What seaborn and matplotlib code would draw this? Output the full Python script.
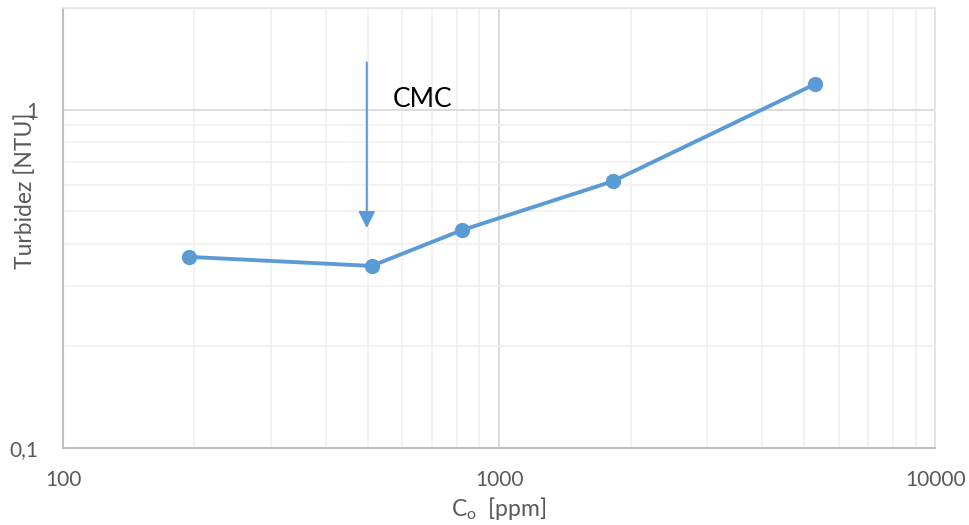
import matplotlib
matplotlib.use("Agg")
import matplotlib.pyplot as plt
import seaborn as sns
import pandas as pd
from matplotlib.ticker import FixedLocator, FixedFormatter, NullFormatter

# Data
conc_ppm = [194, 510, 820, 1820, 5290]
turbidity_ntu = [0.367, 0.345, 0.440, 0.614, 1.19]
x_ticks = [100, 1000, 10000]
x_tick_labels = ["100", "1000", "10000"]
y_ticks = [0.1, 1]
y_tick_labels = ["0,1", "1"]
cmc_ppm = 497
arrow_top, arrow_tip = 1.38, 0.446
cmc_label = "CMC"
cmc_label_pos = (571, 1.073)

sns.set_theme(style="white")
plt.rcParams["font.family"] = ["Lato", "DejaVu Sans"]
plt.rcParams["mathtext.fontset"] = "custom"
plt.rcParams["mathtext.rm"] = "Lato"

blue = "#5b9bd5"
fig = plt.figure(figsize=(9.7, 5.25), dpi=100)
ax = fig.add_axes([63 / 970, 1 - 447.7 / 525, (935.5 - 63) / 970, (447.7 - 8) / 525])

df = pd.DataFrame({"C": conc_ppm, "T": turbidity_ntu})
sns.lineplot(data=df, x="C", y="T", ax=ax, color=blue, lw=2.8, marker="o",
             markersize=11, markeredgewidth=0, markeredgecolor=blue, zorder=5)

ax.set_xscale("log")
ax.set_yscale("log")
ax.set_xlim(100, 10000)
ax.set_ylim(0.1, 2.0)

ax.xaxis.set_major_locator(FixedLocator(x_ticks))
ax.xaxis.set_major_formatter(FixedFormatter(x_tick_labels))
ax.yaxis.set_major_locator(FixedLocator(y_ticks))
ax.yaxis.set_major_formatter(FixedFormatter(y_tick_labels))
ax.xaxis.set_minor_formatter(NullFormatter())
ax.yaxis.set_minor_formatter(NullFormatter())

ax.grid(True, which="minor", color="#efefef", lw=1.1)
ax.grid(True, which="major", color="#d9d9d9", lw=1.3)
ax.set_axisbelow(True)

ax.tick_params(axis="both", which="both", length=0)
ax.tick_params(axis="x", pad=16, labelsize=15, labelcolor="#595959")
ax.tick_params(axis="y", pad=18, labelsize=15, labelcolor="#595959")

for s in ["left", "bottom"]:
    ax.spines[s].set_color("#bfbfbf")
    ax.spines[s].set_linewidth(1.5)
for s in ["top", "right"]:
    ax.spines[s].set_color("#e3e3e3")
    ax.spines[s].set_linewidth(1.2)

ax.set_xlabel("")
ax.set_ylabel("")
fig.text(499 / 970, 1 - 508 / 525, r"C$_{\mathrm{o}}$  [ppm]", ha="center", va="center",
         fontsize=16.5, color="#595959")
fig.text(25 / 970, 1 - 191 / 525, "Turbidez [NTU]", rotation=90, ha="center", va="center",
         fontsize=16.5, color="#595959")

ax.annotate("", xy=(cmc_ppm, arrow_tip), xytext=(cmc_ppm, arrow_top),
            arrowprops=dict(arrowstyle="-|>,head_length=0.5,head_width=0.25", mutation_scale=20,
                            color=blue, lw=1.5, shrinkA=0, shrinkB=0))
ax.text(cmc_label_pos[0], cmc_label_pos[1], cmc_label, ha="left", va="center",
        fontsize=19, color="black")

fig.savefig("out.png", dpi=100)
